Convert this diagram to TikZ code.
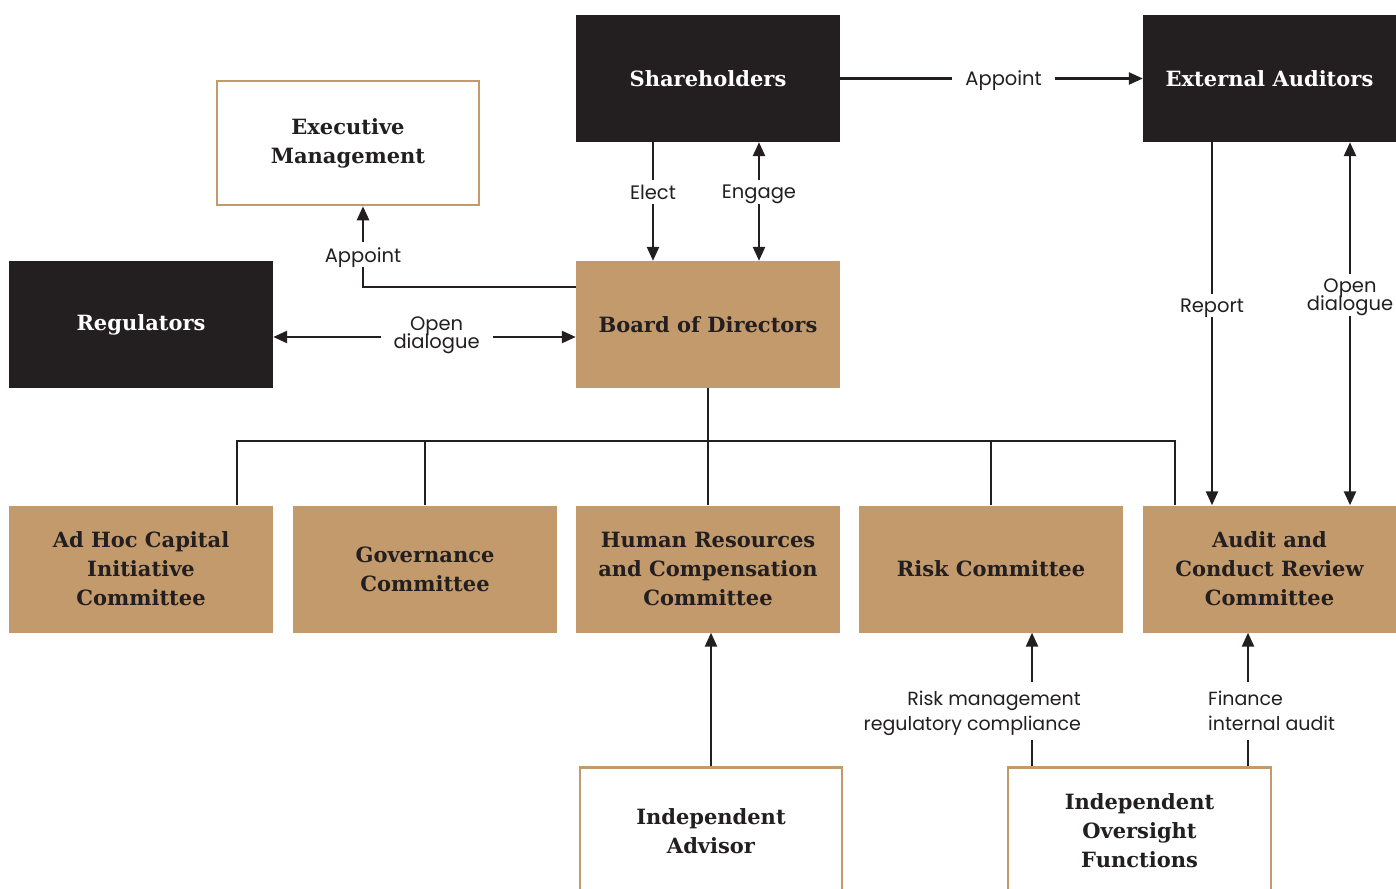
\documentclass[tikz,border=0pt]{standalone}
\usepackage{fontspec}
\setmainfont{DejaVu Serif}
\newfontfamily\lblfont{Poppins}
\usetikzlibrary{arrows.meta}
\setlength{\lineskiplimit}{-20pt}

\definecolor{ink}{HTML}{231F20}
\definecolor{tan}{HTML}{C39A6B}

\tikzset{
  box/.style={minimum width=264pt, minimum height=127pt, inner sep=0pt, align=center,
    font=\fontsize{21}{29}\selectfont\bfseries},
  darkbox/.style={box, fill=ink, text=white},
  tanbox/.style={box, fill=tan, text=ink},
  openbox/.style={box, draw=tan, line width=2.5pt, fill=white, text=ink},
  lbl/.style={fill=white, text=ink, inner xsep=13pt, inner ysep=5pt, align=center,
    text depth=0pt, font=\lblfont\fontsize{19.5}{18}\selectfont},
  link/.style={draw=ink, line width=2.5pt},
  arr/.style={link, -{Triangle[length=14pt,width=12pt]}},
  darr/.style={link, {Triangle[length=14pt,width=12pt]}-{Triangle[length=14pt,width=12pt]}},
}

\begin{document}
\begin{tikzpicture}[x=1pt,y=-1pt]
  \fill[white] (0,0) rectangle (1396,888);
  \useasboundingbox (0,0) rectangle (1396,888);

  % top row
  \node[darkbox] (share) at (708,78.5) {Shareholders};
  \node[darkbox, minimum width=253pt] (aud) at (1269.5,78.5) {External Auditors};
  \node[openbox, minimum width=262pt, minimum height=124pt] (exec) at (348,143) {Executive\\Management};
  \node[darkbox] (reg) at (141,324.5) {Regulators};
  \node[tanbox] (board) at (708,324.5) {Board of Directors};

  % committees
  \node[tanbox] (adhoc) at (141,569) {Ad Hoc Capital\\Initiative\\Committee};
  \node[tanbox] (gov) at (425,569) {Governance\\Committee};
  \node[tanbox] (hr) at (708,569) {Human Resources\\and Compensation\\Committee};
  \node[tanbox] (risk) at (991,569) {Risk Committee};
  \node[tanbox, minimum width=253pt] (audit) at (1269.5,569) {Audit and\\Conduct Review\\Committee};

  % bottom row (runs off the page)
  \node[openbox, minimum width=262pt] (adv) at (711,831) {Independent\\Advisor};
  \node[openbox, minimum width=263pt] (iof) at (1139.5,831) {Independent\\Oversight\\Functions};

  % links round the board
  \draw[arr] (share) -- node[lbl, pos=0.54] {Appoint} (aud);
  \draw[arr] ([xshift=-55pt]share.south) -- node[lbl, pos=0.42] {Elect} ([xshift=-55pt]board.north);
  \draw[darr] ([xshift=51pt]share.south) -- node[lbl, pos=0.42] {Engage} ([xshift=51pt]board.north);
  \draw[arr] ([yshift=37.5pt]board.west) -| node[lbl, pos=0.7] {Appoint} ([xshift=15pt]exec.south);
  \draw[darr] ([yshift=-12.5pt]reg.east) -- node[lbl, pos=0.54, yshift=4pt] {Open\\dialogue} ([yshift=-12.5pt]board.west);
  \draw[arr] ([xshift=-57.5pt]aud.south) -- node[lbl, pos=0.45] {Report} ([xshift=-57.5pt]audit.north);
  \draw[darr] ([xshift=80.5pt]aud.south) -- node[lbl, pos=0.42] {Open\\dialogue} ([xshift=80.5pt]audit.north);

  % board to committees
  \coordinate (bus) at (708,441);
  \draw[link] (board.south) -- (bus);
  \draw[link] ([xshift=96pt]adhoc.north) |- (bus) -| ([xshift=-94.5pt]audit.north);
  \foreach \n in {gov,hr,risk}
  \draw[link] (\n.north) -- (\n.north |- bus);

  % links from below
  \draw[arr] (adv.north) -- (adv.north |- hr.south);
  \draw[arr] ([xshift=-107.5pt]iof.north) -- ([xshift=41pt]risk.south);
  \draw[arr] ([xshift=108.5pt]iof.north) -- ([xshift=-21.5pt]audit.south);
  \node[lbl, anchor=east, align=right, inner ysep=9pt, inner xsep=2pt,
    font=\lblfont\fontsize{19}{25}\selectfont] (risklbl) at (1083,711) {Risk management\\regulatory compliance};
  \node[lbl, anchor=west, align=left, inner ysep=9pt, inner xsep=2pt,
    font=\lblfont\fontsize{19}{25}\selectfont] (finlbl) at (1206,711) {Finance\\internal audit};
\end{tikzpicture}
\end{document}
